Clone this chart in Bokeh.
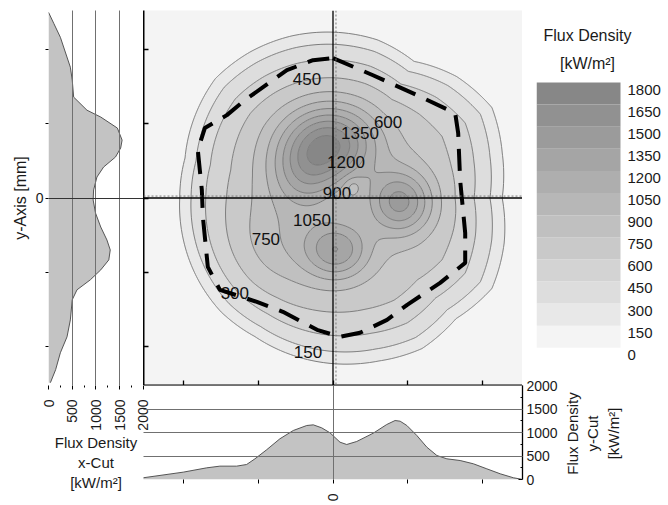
import numpy as np
from bokeh.plotting import figure
from bokeh.layouts import row, column
from bokeh.models import Range1d, FixedTicker, Span, Label
from bokeh.core.properties import value
from bokeh.embed import file_html
from bokeh.resources import INLINE

FONT = "Liberation Sans"
TXT = "#1a1a1a"

# ---------------- data ----------------
FLUX_LEVELS = [0, 150, 300, 450, 600, 750, 900, 1050, 1200, 1350, 1500, 1650, 1800]
BAND_COLORS = ["#f4f4f4", "#e8e8e8", "#dddddd", "#d3d3d3", "#c9c9c9", "#c0c0c0",
               "#b7b7b7", "#aeaeae", "#a5a5a5", "#9b9b9b", "#919191", "#878787"]
POS_TICKS = [-100, -50, 0, 50, 100]
FLUX_TICKS = [0, 500, 1000, 1500, 2000]
FLUX_MINOR = [250, 750, 1250, 1750]

# x-cut profile (flux along y at x = 0)
XCUT_Y = [124.8, 117.4, 108.0, 87.9, 79.2, 67.8, 59.0, 54.4, 47.0, 38.9,
          33.6, 27.5, 20.8, 14.1, 5.4, -1.3, -10.1, -19.5, -28.2, -34.9,
          -41.6, -48.3, -55.0, -61.7, -68.4, -81.9, -93.3, -104.0, -115.4, -124.1]
XCUT_V = [0, 110, 250, 460, 500, 530, 810, 1100, 1450, 1550,
          1520, 1410, 1160, 1020, 950, 940, 990, 1100, 1230, 1300,
          1270, 1100, 880, 600, 500, 460, 390, 250, 150, 40]

# y-cut profile (flux along x at y = 0)
YCUT_X = [-127.3, -100.4, -84.7, -75.8, -64.6, -57.9, -52.3, -44.5, -35.6, -26.6,
          -17.6, -13.2, -7.6, -2.0, 4.7, 9.2, 15.9, 27.0, 36.0, 41.6,
          45.0, 49.5, 56.2, 62.9, 69.6, 76.3, 85.2, 94.1, 103.1, 112.1, 121.0, 126.5]
YCUT_V = [36, 156, 248, 284, 284, 319, 440, 632, 866, 1043,
          1149, 1163, 1100, 993, 794, 745, 809, 986, 1170, 1255,
          1241, 1149, 936, 688, 511, 440, 404, 334, 227, 121, 36, 5]

# radius of the outer 150 kW/m2 iso-line, sampled by angle (deg, mm)
EDGE_ANGLE = [-180, -165, -150, -135, -120, -105, -90, -75, -60, -45, -30, -15,
              0, 15, 30, 45, 60, 75, 90, 105, 120, 135, 150, 165]
EDGE_R150 = [104.0, 105.3, 106.7, 108.0, 107.4, 109.4, 111.4, 113.4, 116.8, 114.7, 121.5, 117.4,
             112.1, 116.1, 121.5, 115.4, 106.0, 110.0, 111.4, 112.7, 113.4, 113.4, 108.7, 104.0]
PLATEAU_LEVEL = 720
PLATEAU_CX, PLATEAU_CY = 1.3, 0.0

# hot spots on top of the plateau (mm, kW/m2)
SPOT_X = [-2.0, -18.8, 45.0, 2.7, -32.2, 13.4]
SPOT_Y = [36.9, 15.4, -2.7, -34.9, -28.2, 8.1]
SPOT_AMP = [900, 420, 700, 590, 170, -150]
SPOT_SX = [21.5, 16.8, 14.8, 14.8, 21.5, 4.0]
SPOT_SY = [17.4, 16.8, 14.8, 13.4, 21.5, 4.0]

# dashed outline (mm)
DASH_X = [0.0, 26.8, 56.4, 81.9, 83.9, 85.2, 88.6, 88.6, 71.8, 49.7, 36.2, 18.1, 4.7,
          -10.7, -33.6, -51.0, -75.8, -83.9, -87.2, -87.9, -90.6, -85.9, -71.1, -59.0, -30.9, -13.4]
DASH_Y = [94.0, 82.5, 69.1, 57.0, 43.6, 12.1, -23.5, -43.6, -57.0, -71.8, -81.9, -90.6, -93.3,
          -88.6, -76.5, -69.8, -61.7, -46.3, -12.7, 5.4, 32.2, 47.0, 55.7, 65.8, 85.9, 92.6]

# contour labels
LABEL_TEXT = ["450", "600", "1350", "1200", "900", "1050", "750", "300", "150"]
LABEL_X = [-17.4, 36.9, 18.1, 8.7, 2.7, -14.1, -45.0, -65.8, -16.8]
LABEL_Y = [79.8, 51.0, 43.6, 24.2, 3.4, -14.8, -27.5, -63.7, -103.3]

CENTROID_X, CENTROID_Y = 2.0, 1.3

X_RANGE = (-127, 127)
Y_RANGE = (-126, 126)

# ---------------- field ----------------
GX = np.linspace(X_RANGE[0], X_RANGE[1], 381)
GY = np.linspace(Y_RANGE[0], Y_RANGE[1], 377)
XX, YY = np.meshgrid(GX, GY)
dx, dy = XX - PLATEAU_CX, YY - PLATEAU_CY
rr = np.hypot(dx, dy)
th = np.degrees(np.arctan2(dy, dx))
r150 = np.interp(th, EDGE_ANGLE, EDGE_R150, period=360)
Z = PLATEAU_LEVEL * (1 - (1 - 150 / PLATEAU_LEVEL) * (rr / r150) ** 4)
Z = np.clip(Z, 0, None)
for cx, cy, a, sx, sy in zip(SPOT_X, SPOT_Y, SPOT_AMP, SPOT_SX, SPOT_SY):
    Z = Z + a * np.exp(-((XX - cx) ** 2 / (2 * sx ** 2) + (YY - cy) ** 2 / (2 * sy ** 2)))
Z = np.clip(Z, 0, None)

xr = Range1d(*X_RANGE)
yr = Range1d(*Y_RANGE)

def style_axis(ax, size="14px"):
    ax.major_label_text_font = FONT
    ax.major_label_text_font_size = size
    ax.major_label_text_color = TXT
    ax.axis_label_text_font = FONT
    ax.axis_label_text_font_style = "normal"
    ax.axis_label_text_color = TXT
    ax.axis_label_text_font_size = "15px"

def zero_only(ax, out=3, inn=0):
    # only the 0 tick carries a label; the others are plain tick marks
    ax.ticker = FixedTicker(ticks=[0], minor_ticks=[t for t in POS_TICKS if t != 0])
    ax.major_tick_out = out
    ax.major_tick_in = inn
    ax.minor_tick_out = out
    ax.minor_tick_in = inn
    ax.minor_tick_line_color = "black"
    ax.major_tick_line_color = "black"

def text_label(fig, x, y, txt, size="15px", angle=0.0):
    fig.add_layout(Label(x=x, y=y, x_units="screen", y_units="screen", text=txt,
                         text_font=FONT, text_font_size=size, text_color=TXT, angle=angle,
                         text_align="center", text_baseline="middle"))

# ---------------- left panel (x-cut) ----------------
left = figure(width=151, height=505, x_range=Range1d(0, 2000.5), y_range=yr,
              output_backend="svg", toolbar_location=None,
              min_border_left=48, min_border_right=8, min_border_top=10, min_border_bottom=120,
              outline_line_color=None, background_fill_color="white", border_fill_color="white",
              styles={"margin-right": "-8px"})
left.harea(y=XCUT_Y, x1=0, x2=XCUT_V, fill_color="#c3c3c3")
left.line(x=XCUT_V, y=XCUT_Y, line_color="#555555", line_width=1)
left.xgrid.ticker = FixedTicker(ticks=[500, 1000, 1500])
left.xgrid.grid_line_color = "#707070"
left.xgrid.level = "guide"
left.ygrid.ticker = FixedTicker(ticks=[0])
left.ygrid.grid_line_color = "#333333"
left.ygrid.level = "guide"
ya = left.yaxis[0]
style_axis(ya)
zero_only(ya, out=3)
ya.axis_line_color = None
ya.major_label_standoff = 2
ya.axis_label = "y-Axis [mm]"
ya.axis_label_text_font_size = "16px"
ya.axis_label_standoff = 4
xa = left.xaxis[0]
style_axis(xa)
xa.ticker = FixedTicker(ticks=FLUX_TICKS, minor_ticks=FLUX_MINOR)
xa.major_label_orientation = np.pi / 2
xa.axis_line_color = None
xa.major_tick_out = 4
xa.major_tick_in = 0
xa.minor_tick_out = 2
xa.minor_tick_in = 0
xa.major_label_standoff = 10
xa.axis_label = "Flux Density\nx-Cut\n[kW/m²]"
xa.axis_label_standoff = 0

# ---------------- main contour panel ----------------
main = figure(width=379, height=385, x_range=xr, y_range=yr,
              output_backend="svg", toolbar_location=None,
              min_border_left=0, min_border_right=0, min_border_top=10, min_border_bottom=0,
              background_fill_color=BAND_COLORS[0], border_fill_color="white",
              outline_line_color=None)
main.grid.visible = False
for ax in (main.xaxis[0], main.yaxis[0]):
    ax.ticker = FixedTicker(ticks=[], minor_ticks=POS_TICKS)
    ax.major_label_standoff = 0
    ax.major_tick_in = 0
    ax.major_tick_out = 0
    ax.minor_tick_in = 5
    ax.minor_tick_out = 0
    ax.minor_tick_line_color = "black"
    ax.minor_tick_line_width = 1.3
    ax.axis_line_width = 2
    ax.axis_line_color = "black"
main.contour(x=GX, y=GY, z=Z, levels=FLUX_LEVELS[1:], fill_color=BAND_COLORS[1:],
             line_color="#7a7a7a", line_width=1)
main.add_layout(Span(location=CENTROID_X, dimension="height", line_color="#777777",
                     line_width=1, line_dash="2 2"))
main.add_layout(Span(location=CENTROID_Y, dimension="width", line_color="#777777",
                     line_width=1, line_dash="2 2"))
main.add_layout(Span(location=0, dimension="height", line_color="black", line_width=1.3))
main.add_layout(Span(location=0, dimension="width", line_color="black", line_width=1.3))
main.text(x=LABEL_X, y=LABEL_Y, text=LABEL_TEXT, text_font=value(FONT), text_font_size="17px",
          text_color="#111111", text_align="center", text_baseline="middle")
main.line(x=DASH_X + DASH_X[:1], y=DASH_Y + DASH_Y[:1], line_color="black", line_width=4,
          line_dash="22 12")

# ---------------- colour bar (frame covers x 536..668, y 10..385) ----------------
CB_TOP_PX, CB_BOT_PX, FRAME_TOP, FRAME_BOT = 82.0, 347.3, 10.0, 385.0
CB_W = 132
cb_scale = (CB_BOT_PX - CB_TOP_PX) / FLUX_LEVELS[-1]
cb_hi = FLUX_LEVELS[-1] + (CB_TOP_PX - FRAME_TOP) / cb_scale
cb_lo = -(FRAME_BOT - CB_BOT_PX) / cb_scale
cbar = figure(width=146, height=385, x_range=Range1d(0, CB_W), y_range=Range1d(cb_lo, cb_hi),
              output_backend="svg", toolbar_location=None,
              min_border_left=14, min_border_right=0, min_border_top=10, min_border_bottom=0,
              x_axis_location=None, y_axis_location=None,
              outline_line_color=None, background_fill_color="white", border_fill_color="white")
cbar.grid.visible = False
cbar.quad(left=0, right=84, bottom=FLUX_LEVELS[:-1], top=FLUX_LEVELS[1:],
          fill_color=BAND_COLORS, line_color=None)
cb_shift = 7.0 / cb_scale
cbar.text(x=[91] * len(FLUX_LEVELS), y=[v - cb_shift for v in FLUX_LEVELS],
          text=[str(v) for v in FLUX_LEVELS], text_font=value(FONT), text_font_size="15px",
          text_color=TXT, text_align="left", text_baseline="middle")
text_label(cbar, 51, FRAME_BOT - 35, "Flux Density", "16px")
text_label(cbar, 51, FRAME_BOT - 63, "[kW/m²]", "16px")

# ---------------- bottom panel (y-cut) ----------------
bottom = figure(width=419, height=130, x_range=xr, y_range=Range1d(0, 2000.5),
                output_backend="svg", toolbar_location=None,
                min_border_left=0, min_border_right=40, min_border_top=10, min_border_bottom=26,
                y_axis_location="right", outline_line_color=None,
                background_fill_color=None, border_fill_color=None,
                styles={"margin-top": "-10px"})
bottom.varea(x=YCUT_X, y1=0, y2=YCUT_V, fill_color="#c3c3c3")
bottom.line(x=YCUT_X, y=YCUT_V, line_color="#555555", line_width=1)
bottom.ygrid.ticker = FixedTicker(ticks=[500, 1000, 1500, 2000])
bottom.ygrid.grid_line_color = "#707070"
bottom.ygrid.level = "guide"
bottom.xgrid.ticker = FixedTicker(ticks=[0])
bottom.xgrid.grid_line_color = "#707070"
bottom.xgrid.level = "guide"
ra = bottom.yaxis[0]
style_axis(ra)
ra.ticker = FixedTicker(ticks=FLUX_TICKS, minor_ticks=FLUX_MINOR)
ra.axis_line_color = "black"
ra.axis_line_width = 1.3
ra.major_tick_in = 4
ra.major_tick_out = 0
ra.minor_tick_in = 2
ra.minor_tick_out = 0
ra.major_label_standoff = 4
ba = bottom.xaxis[0]
style_axis(ba)
zero_only(ba, out=4)
ba.major_label_orientation = np.pi / 2
ba.axis_line_color = None
ba.major_label_standoff = 10

# title of the y-cut axis, beside the bottom panel (canvas x 562..668)
ytitle = figure(width=106, height=130, x_range=Range1d(0, 106), y_range=Range1d(0, 1),
                output_backend="svg", toolbar_location=None,
                min_border_left=0, min_border_right=0, min_border_top=10, min_border_bottom=26,
                x_axis_location=None, y_axis_location=None, outline_line_color=None,
                background_fill_color=None, border_fill_color=None,
                styles={"margin-top": "-10px"})
ytitle.grid.visible = False
for txt, xpx in zip(["Flux Density", "y-Cut", "[kW/m²]"], [10, 30, 51]):
    text_label(ytitle, xpx, 46, txt, "15px", angle=np.pi / 2)

layout = row(left, column(row(main, cbar), row(bottom, ytitle)))
open("out.html", "w").write(file_html(layout, INLINE))
